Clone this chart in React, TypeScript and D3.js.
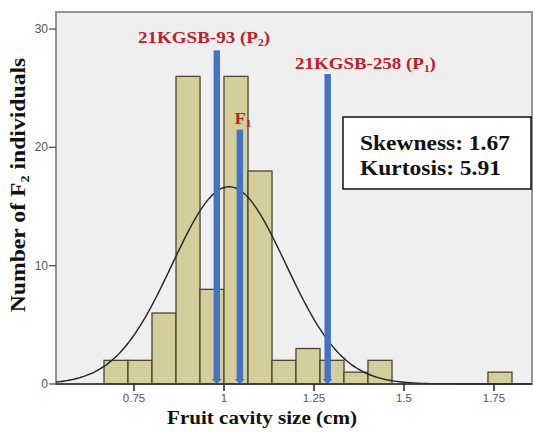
import React, { useEffect, useRef } from "react";
import * as d3 from "d3";

// histogram bins (lower edge, cm) and counts of F2 individuals
const binLow = [0.6667, 0.7333, 0.8, 0.8667, 0.9333, 1.0, 1.0667, 1.1333, 1.2, 1.2667, 1.3333, 1.4, 1.7333];
const binCounts = [2, 2, 6, 26, 8, 26, 18, 2, 3, 2, 1, 2, 1];
const binWidth = 0.0667;

// fitted normal curve parameters
const fitMean = 1.014;
const fitSd = 0.158;

// parents and F1 markers
const markerNames = ["P2", "F1", "P1"];
const markerX = [0.98, 1.044, 1.288];
const markerHeight = [28.2, 21.5, 26.2];

const xTicks = [0.75, 1, 1.25, 1.5, 1.75];
const yTicks = [0, 10, 20, 30];

const W = 533;
const H = 433;

export default function App() {
  const ref = useRef<SVGSVGElement>(null);

  useEffect(() => {
    const svg = d3.select(ref.current);
    svg.selectAll("*").remove();

    const left = 56;
    const right = 532;
    const top = 12;
    const bottom = 384;

    const x = d3.scaleLinear().domain([0.5333, 1.8556]).range([left, right]);
    const y = d3.scaleLinear().domain([0, 31.44]).range([bottom, top]);

    const serif = "'Liberation Serif', 'Times New Roman', serif";
    const sans = "'Liberation Sans', Arial, sans-serif";

    // stretch a text horizontally so it spans the wanted width
    const fit = (g: d3.Selection<SVGGElement, unknown, null, undefined>, t: d3.Selection<SVGTextElement, unknown, null, undefined>, cx: number, cy: number, width: number, rot = 0) => {
      const w = (t.node() as SVGTextElement).getBBox().width;
      const s = width / w;
      g.attr("transform", `translate(${cx},${cy}) rotate(${rot}) scale(${s},1)`);
    };

    svg.append("rect").attr("width", W).attr("height", H).attr("fill", "#fff");

    // plot background
    svg
      .append("rect")
      .attr("x", left)
      .attr("y", top)
      .attr("width", right - left)
      .attr("height", bottom - top)
      .attr("fill", "#efefef")
      .attr("stroke", "#8a8a8a")
      .attr("stroke-width", 1.8);

    // bars
    svg
      .append("g")
      .selectAll("rect")
      .data(binLow)
      .join("rect")
      .attr("x", (d) => x(d))
      .attr("y", (d, i) => y(binCounts[i]))
      .attr("width", (d) => x(d + binWidth) - x(d))
      .attr("height", (d, i) => y(0) - y(binCounts[i]))
      .attr("fill", "#d3ce9b")
      .attr("stroke", "#4a4530")
      .attr("stroke-width", 1.3);

    // normal curve
    const n = d3.sum(binCounts);
    const pts = d3.range(0.5333, 1.8556, 0.005);
    const dens = (v: number) =>
      (n * binWidth) / (fitSd * Math.sqrt(2 * Math.PI)) *
      Math.exp(-0.5 * ((v - fitMean) / fitSd) ** 2);
    svg
      .append("path")
      .attr(
        "d",
        d3
          .line<number>()
          .x((d) => x(d))
          .y((d) => y(dens(d)))
          .curve(d3.curveBasis)(pts)
      )
      .attr("fill", "none")
      .attr("stroke", "#222")
      .attr("stroke-width", 1.4);

    // blue markers with arrow heads
    const mk = svg.append("g");
    markerX.forEach((mx, i) => {
      const cx = x(mx);
      mk.append("rect")
        .attr("x", cx - 3.2)
        .attr("y", y(markerHeight[i]))
        .attr("width", 6.4)
        .attr("height", y(0) - y(markerHeight[i]) - 3)
        .attr("fill", "#4472c4");
      mk.append("path")
        .attr("d", `M${cx - 5},${bottom - 5}L${cx + 5},${bottom - 5}L${cx},${bottom}Z`)
        .attr("fill", "#4472c4");
    });

    // x axis
    const xa = svg.append("g").attr("transform", `translate(0,${bottom})`);
    xa.append("line").attr("x1", left).attr("x2", right).attr("stroke", "#333").attr("stroke-width", 1.5);
    xTicks.forEach((t) => {
      xa.append("line").attr("x1", x(t)).attr("x2", x(t)).attr("y1", 0).attr("y2", 7).attr("stroke", "#222").attr("stroke-width", 1.5);
      xa.append("text")
        .attr("x", x(t))
        .attr("y", 18)
        .attr("text-anchor", "middle")
        .attr("font-family", sans)
        .attr("font-size", 11.5)
        .attr("fill", "#555")
        .text(String(t));
    });

    // y axis
    const ya = svg.append("g");
    yTicks.forEach((t) => {
      ya.append("line").attr("x1", left - 7).attr("x2", left).attr("y1", y(t)).attr("y2", y(t)).attr("stroke", "#555").attr("stroke-width", 1.3);
      ya.append("text")
        .attr("x", left - 8)
        .attr("y", y(t) + 4)
        .attr("text-anchor", "end")
        .attr("font-family", sans)
        .attr("font-size", 12)
        .attr("fill", "#555")
        .text(String(t));
    });

    // axis titles
    const xg = svg.append("g");
    const xt = xg
      .append("text")
      .attr("text-anchor", "middle")
      .attr("font-family", serif)
      .attr("font-weight", "bold")
      .attr("font-size", 19)
      .attr("fill", "#111")
      .text("Fruit cavity size (cm)");
    fit(xg, xt, 262, 424, 190);

    const yg = svg.append("g");
    const yt = yg
      .append("text")
      .attr("text-anchor", "middle")
      .attr("font-family", serif)
      .attr("font-weight", "bold")
      .attr("font-size", 20)
      .attr("fill", "#111");
    yt.append("tspan").text("Number of F");
    yt.append("tspan").attr("font-size", 12).attr("dy", 4).text("2");
    yt.append("tspan").attr("dy", -4).text(" individuals");
    fit(yg, yt, 25, 185, 255, -90);

    // marker labels
    const labelPos: Record<string, [number, number, number, string, string]> = {
      P2: [204, 43, 132, "21KGSB-93 (P", "2"],
      F1: [243, 124, 17, "F", "1"],
      P1: [365.5, 69, 141, "21KGSB-258 (P", "1"],
    };
    markerNames.forEach((nm) => {
      const [lx, ly, lw, main, sub] = labelPos[nm];
      const g = svg.append("g");
      const t = g
        .append("text")
        .attr("text-anchor", "middle")
        .attr("font-family", serif)
        .attr("font-weight", "bold")
        .attr("font-size", 16.5)
        .attr("fill", "#c0202a");
      t.append("tspan").text(main);
      t.append("tspan").attr("font-size", 10).attr("dy", 3).text(sub);
      if (nm !== "F1") t.append("tspan").attr("dy", -3).text(")");
      fit(g, t, lx, ly, lw);
    });

    // stats box
    svg
      .append("rect")
      .attr("x", 343)
      .attr("y", 117)
      .attr("width", 188)
      .attr("height", 72)
      .attr("fill", "#fff")
      .attr("stroke", "#111")
      .attr("stroke-width", 1.5);
    const stats = ["Skewness: 1.67", "Kurtosis: 5.91"];
    const statW = [150, 141];
    stats.forEach((s, i) => {
      const g = svg.append("g");
      const t = g
        .append("text")
        .attr("font-family", serif)
        .attr("font-weight", "bold")
        .attr("font-size", 20)
        .attr("fill", "#111")
        .text(s);
      fit(g, t, 360, 150 + i * 25, statW[i]);
    });
  }, []);

  return (
    <svg
      ref={ref}
      width={W}
      height={H}
      style={{ position: "absolute", left: 0, top: 0 }}
    />
  );
}
